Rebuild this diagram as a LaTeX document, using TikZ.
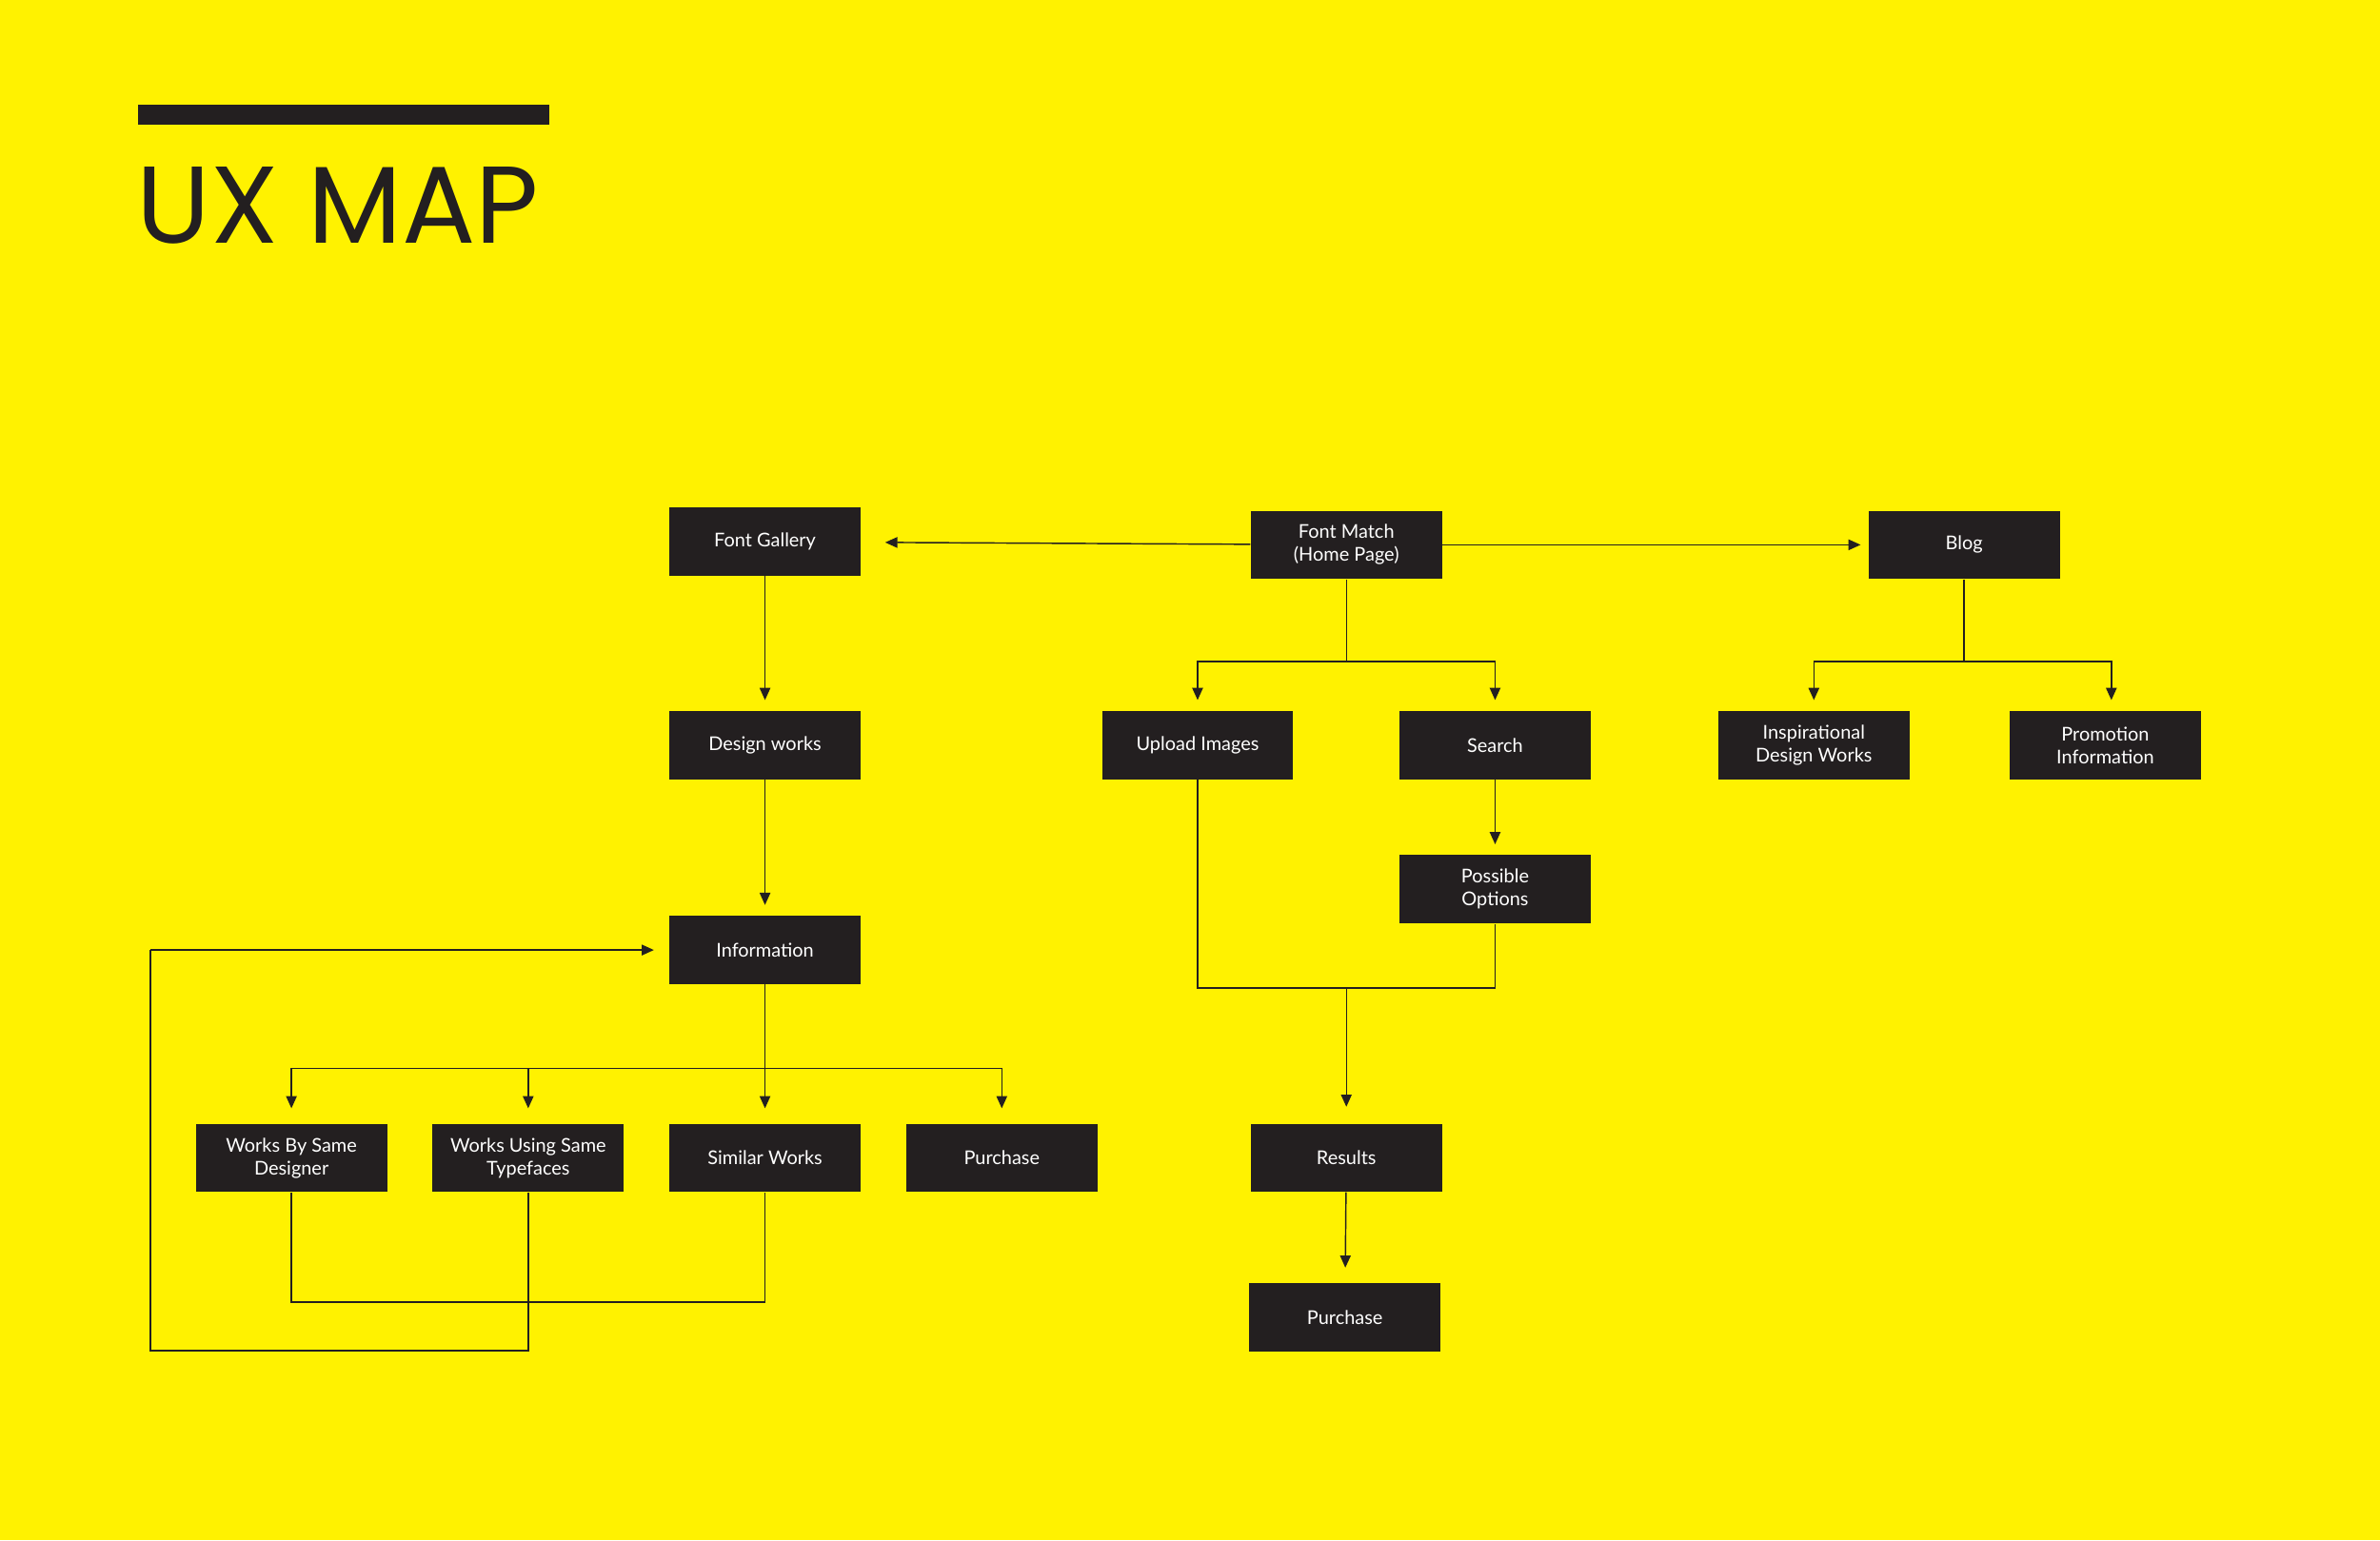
\documentclass[tikz,border=0pt]{standalone}
\usepackage{fontspec}
\setmainfont{Lato}
\newfontfamily\titlefont{Poppins}
\usetikzlibrary{arrows.meta}
\definecolor{bg}{HTML}{FFF200}
\definecolor{ink}{HTML}{231F20}
\tikzset{
 box/.style={fill=ink,text=white,minimum width=126pt,minimum height=45pt,inner sep=0pt,align=center,font=\fontsize{12.5}{15}\selectfont},
 ln/.style={draw=ink,line width=0.9pt},
 arr/.style={ln,-{Triangle[length=8pt,width=7pt]}}
}
\begin{document}
\begin{tikzpicture}[x=1pt,y=-1pt]
\fill[bg] (0,0) rectangle (1568,1015);
\useasboundingbox (0,0) rectangle (1568,1015);
\fill[ink] (91,69) rectangle (362,82);
\node[anchor=base west,inner sep=0pt,text=ink,font=\titlefont\fontsize{72}{72}\selectfont] (title) at (90,160) {UX MAP};
\node[box] (fg) at (504,357) {Font Gallery};
\node[box] (fm) at (887,359) {Font Match\\(Home Page)};
\node[box] (blog) at (1294,359) {Blog};
\node[box] (dw) at (504,491) {Design works};
\node[box] (up) at (789,491) {Upload Images};
\node[box] (se) at (985,491) {Search};
\node[box] (ins) at (1195,491) {Inspirational\\Design Works};
\node[box] (pro) at (1387,491) {Promotion\\Information};
\node[box] (po) at (985,586) {Possible\\Options};
\node[box] (inf) at (504,626) {Information};
\node[box] (wsd) at (192,763) {Works By Same\\Designer};
\node[box] (wst) at (348,763) {Works Using Same\\Typefaces};
\node[box] (sw) at (504,763) {Similar Works};
\node[box] (pu1) at (660,763) {Purchase};
\node[box] (res) at (887,763) {Results};
\node[box] (pu2) at (886,868) {Purchase};
\coordinate (j1) at (887,436);
\coordinate (j2) at (1294,436);
\coordinate (j3) at (887,651);
\coordinate (j4) at (504,704);
\coordinate (lp) at (99,626);
\draw[arr,shorten >=16pt] (fm) -- (fg);
\draw[arr,shorten >=5pt] (fm) -- (blog);
\draw[arr,shorten >=7pt] (fg) -- (dw);
\draw[arr,shorten >=7pt] (dw) -- (inf);
\draw[ln] (fm) -- (j1);
\draw[arr,shorten >=7pt] (j1) -| (up);
\draw[arr,shorten >=7pt] (j1) -| (se);
\draw[ln] (blog) -- (j2);
\draw[arr,shorten >=7pt] (j2) -| (ins);
\draw[arr,shorten >=7pt] (j2) -| (pro.north -| 1391,0);
\draw[arr,shorten >=7pt] (se) -- (po);
\draw[ln] (up.south) |- (j3) -| (po.south);
\draw[arr,shorten >=11pt] (j3) -- (res);
\draw[arr,shorten >=10pt] (res) -- (pu2);
\draw[ln] (inf) -- (j4);
\draw[arr,shorten >=10pt] (j4) -| (wsd);
\draw[arr,shorten >=10pt] (j4) -| (wst);
\draw[arr,shorten >=10pt] (j4) -- (sw);
\draw[arr,shorten >=10pt] (j4) -| (pu1);
\draw[ln] (wsd.south) |- (504,858) -- (sw.south);
\draw[ln] (wst.south) |- (99,890) -- (lp);
\draw[arr,shorten >=10pt] (lp) -- (inf);
\end{tikzpicture}
\end{document}
